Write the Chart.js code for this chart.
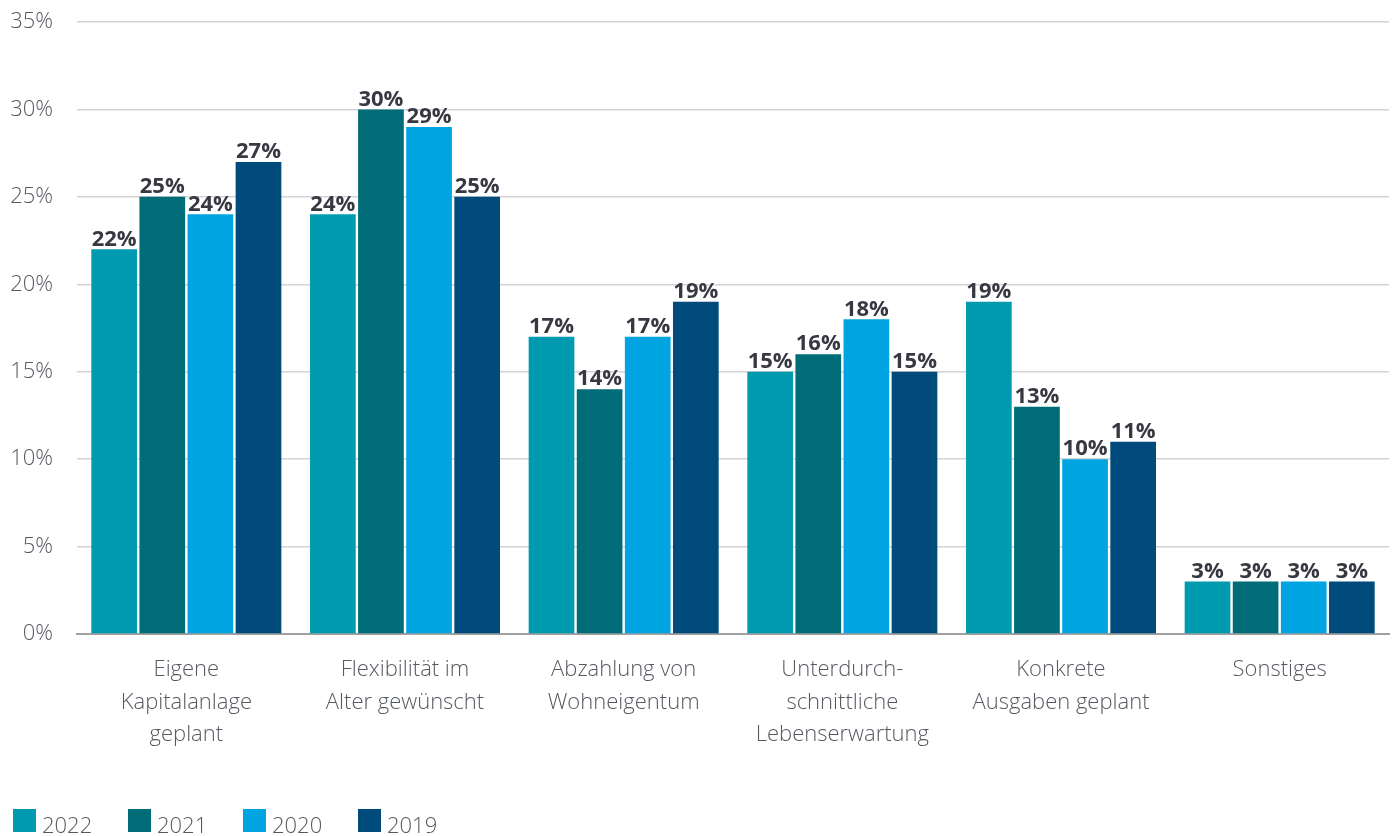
<!DOCTYPE html>
<html><head><meta charset="utf-8">
<script src="https://cdn.jsdelivr.net/npm/chart.js@4.4.0/dist/chart.umd.min.js"></script>
<style>
html,body{margin:0;padding:0;background:#fff;overflow:hidden}
#wrap{position:relative;width:1397px;height:836px}
#legend{position:absolute;left:13px;top:809px;display:flex;font-family:"Open Sans";font-weight:300;font-size:22px;color:#555a60;line-height:23px}
#legend .it{display:flex;align-items:center;width:115px}
#legend .sw{width:23px;height:23px;margin-right:6px}
#legend span{position:relative;top:4px}
</style></head>
<body><div id="wrap"><canvas id="c" width="1397" height="836"></canvas><div id="legend"></div></div>
<script>
const categories = [["Eigene","Kapitalanlage","geplant"],["Flexibilität im","Alter gewünscht"],["Abzahlung von","Wohneigentum"],["Unterdurch-","schnittliche","Lebenserwartung"],["Konkrete","Ausgaben geplant"],["Sonstiges"]];
const seriesNames = ["2022","2021","2020","2019"];
const v2022 = [22,24,17,15,19,3];
const v2021 = [25,30,14,16,13,3];
const v2020 = [24,29,17,18,10,3];
const v2019 = [27,25,19,15,11,3];
const colors = ["#009ab0","#006c78","#00a4e0","#004a7c"];
const yMax = 35, yStep = 5;

const seriesValues = [v2022,v2021,v2020,v2019];
const datasets = seriesNames.map((n,i)=>({label:n,data:seriesValues[i],backgroundColor:colors[i],categoryPercentage:0.88,barPercentage:0.95}));

const lg = document.getElementById('legend');
seriesNames.forEach((n,i)=>{const d=document.createElement('div');d.className='it';d.innerHTML='<div class="sw" style="background:'+colors[i]+'"></div><span>'+n+'</span>';lg.appendChild(d);});

const labelPlugin = {id:'vals',afterDatasetsDraw(chart){
  const ctx=chart.ctx;ctx.save();
  ctx.font='bold 22px "Open Sans"';ctx.fillStyle='#383842';ctx.textAlign='center';ctx.textBaseline='bottom';
  chart.data.datasets.forEach((ds,di)=>{chart.getDatasetMeta(di).data.forEach((bar,j)=>{ctx.fillText(ds.data[j]+'%',bar.x,bar.y+1);});});
  ctx.restore();}};

new Chart(document.getElementById('c'),{type:'bar',data:{labels:categories,datasets},
options:{responsive:false,animation:false,
layout:{padding:{top:0,left:0,right:8,bottom:73}},
plugins:{legend:{display:false},tooltip:{enabled:false}},
scales:{
x:{grid:{display:false},border:{display:true,color:'#a0a0a0',width:2},ticks:{color:'#555a60',font:{family:'"Open Sans"',size:22,weight:300,lineHeight:1.47},padding:12}},
y:{min:0,max:yMax,afterFit(s){s.width=77;s.paddingTop=22;s.paddingBottom=0;},ticks:{stepSize:yStep,color:'#555a60',font:{family:'"Open Sans"',size:22,weight:300},padding:24,callback:v=>v+'%'},grid:{color:'#d3d3d3',lineWidth:1.5,drawTicks:false},border:{display:false}}
}},plugins:[labelPlugin]});
</script></body></html>
